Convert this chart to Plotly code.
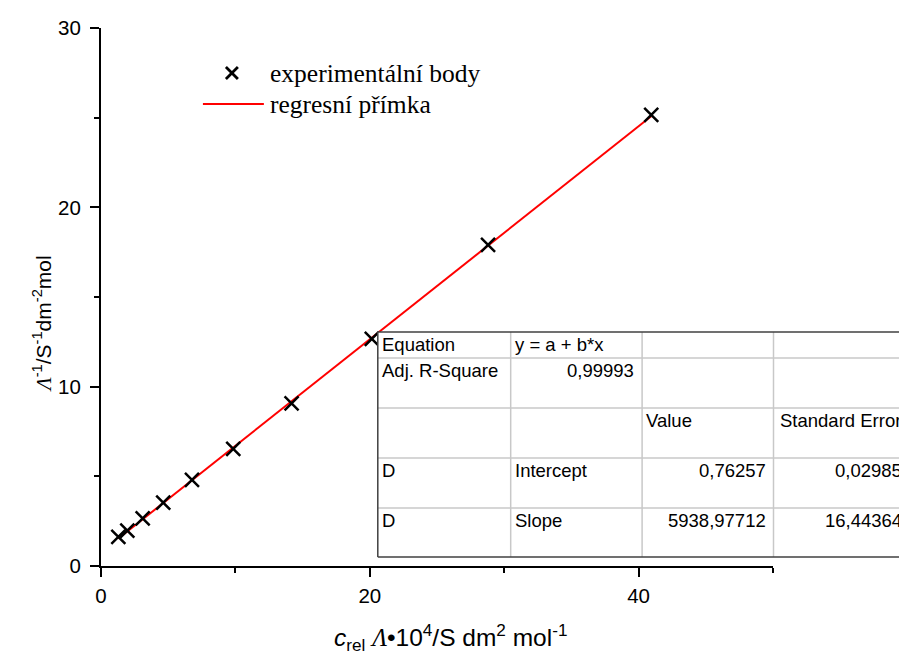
import plotly.graph_objects as go

# ---- data ----
x_vals = [1.29, 1.96, 3.10, 4.63, 6.77, 9.84, 14.18, 20.15, 28.80, 40.94]
y_vals = [1.63, 1.97, 2.66, 3.53, 4.80, 6.53, 9.07, 12.66, 17.90, 25.15]

fit_intercept = 0.76257
fit_slope = 5938.97712      # per (x * 1e-4)

table_rows = [
    ["Equation", "y = a + b*x", "", ""],
    ["Adj. R-Square", "0,99993", "", ""],
    ["", "", "Value", "Standard Error"],
    ["D", "Intercept", "0,76257", "0,02985"],
    ["D", "Slope", "5938,97712", "16,44364"],
]

legend_labels = ["experimentální body", "regresní přímka"]

x_tickvals = [0, 20, 40]
y_tickvals = [0, 10, 20, 30]

# ---- layout geometry (page margin removed below, so page px == figure px) ----
W, H = 899, 657
X0, X50 = 101, 773.5       # pixels of x=0 and x=50
Y0, Y30 = 566, 28          # pixels of y=0 and y=30
L, T = X0, Y30
R, B = W - X50, H - Y0
PW, PH = W - L - R, H - T - B


def px(xp):
    return (xp - L) / PW


def py(yp):
    return (H - B - yp) / PH


SANS = "Liberation Sans, Arial, sans-serif"
SERIF = "Liberation Serif, Times New Roman, serif"

fig = go.Figure()

# regression line drawn through the data span
x_line = [min(x_vals), max(x_vals)]
y_line = [fit_intercept + fit_slope * 1e-4 * v for v in x_line]
fig.add_trace(go.Scatter(x=x_line, y=y_line, mode="lines",
                         line=dict(color="#ff0000", width=2),
                         showlegend=False, hoverinfo="skip"))
fig.add_trace(go.Scatter(x=x_vals, y=y_vals, mode="markers",
                         marker=dict(symbol="x-thin-open", size=14, color="black",
                                     line=dict(color="black", width=2.5)),
                         showlegend=False, cliponaxis=False))

shapes = []
annotations = []

# ---- manual legend ----
lx, ly1, ly2 = 232, 73, 104
arm = 6
for s in (1, -1):
    shapes.append(dict(type="line", xref="paper", yref="paper",
                       x0=px(lx - arm), y0=py(ly1 - s * arm), x1=px(lx + arm), y1=py(ly1 + s * arm),
                       line=dict(color="black", width=2.8)))
shapes.append(dict(type="line", xref="paper", yref="paper",
                   x0=px(203), y0=py(ly2), x1=px(264), y1=py(ly2),
                   line=dict(color="#ff0000", width=2)))
for lab, yy in zip(legend_labels, [ly1, ly2]):
    annotations.append(dict(xref="paper", yref="paper", x=px(268), y=py(yy),
                            text=lab, showarrow=False, xanchor="left", yanchor="middle",
                            font=dict(family=SERIF, size=25.5, color="black")))

# ---- table ----
col_x = [378, 511, 642.5, 774, 911, 1040]
row_y = [332, 358, 408, 458, 508, 557]
grid = "#c8c8c8"
shapes.append(dict(type="rect", xref="paper", yref="paper", layer="above",
                   x0=px(col_x[0]), x1=px(col_x[-1]), y0=py(row_y[0]), y1=py(row_y[-1]),
                   fillcolor="white", line=dict(width=0)))
for yy in row_y[1:-1]:
    shapes.append(dict(type="line", xref="paper", yref="paper", layer="above",
                       x0=px(col_x[0]), x1=px(col_x[-1]), y0=py(yy), y1=py(yy),
                       line=dict(color=grid, width=1.5)))
for xx in col_x[1:-1]:
    shapes.append(dict(type="line", xref="paper", yref="paper", layer="above",
                       x0=px(xx), x1=px(xx), y0=py(row_y[0]), y1=py(row_y[-1]),
                       line=dict(color=grid, width=1.5)))
for (x0, y0, x1, y1) in [(col_x[0], row_y[0], col_x[-1], row_y[0]),
                         (col_x[0], row_y[-1], col_x[-1], row_y[-1]),
                         (col_x[0], row_y[0], col_x[0], row_y[-1])]:
    shapes.append(dict(type="line", xref="paper", yref="paper", layer="above",
                       x0=px(x0), x1=px(x1), y0=py(y0), y1=py(y1),
                       line=dict(color="#404040", width=1.5)))

numeric_cols = {(1, 1), (3, 2), (3, 3), (4, 2), (4, 3)}
for r, row in enumerate(table_rows):
    yc = row_y[r] + 12.5
    for c, txt in enumerate(row):
        if not txt:
            continue
        if (r, c) in numeric_cols:
            xa, anchor = col_x[c + 1] - 6, "right"
        else:
            xa, anchor = col_x[c] + (5 if c == 3 else 2), "left"
        annotations.append(dict(xref="paper", yref="paper", x=px(xa), y=py(yc),
                                text=txt, showarrow=False, xanchor=anchor, yanchor="middle",
                                font=dict(family=SANS, size=18.5, color="black")))

# ---- axis titles ----
lam = "<span style='font-family:Liberation Serif'><i>Λ</i></span>"
annotations.append(dict(xref="paper", yref="paper", x=px(451), y=py(637),
                        text=f"<i>c</i><sub>rel</sub> {lam}•10<sup>4</sup>/S dm<sup>2</sup> mol<sup>-1</sup>",
                        showarrow=False, xanchor="center", yanchor="middle",
                        font=dict(family=SANS, size=24.5, color="black")))
annotations.append(dict(xref="paper", yref="paper", x=px(42), y=py(324),
                        text=f"{lam}<sup>-1</sup>/S<sup>-1</sup>dm<sup>-2</sup>mol",
                        showarrow=False, xanchor="center", yanchor="middle", textangle=-90,
                        font=dict(family=SANS, size=21, color="black")))

axis_common = dict(showline=True, linecolor="black", linewidth=2, mirror=False,
                   showgrid=False, zeroline=False, ticks="outside", ticklen=9,
                   tickwidth=2, tickcolor="black",
                   tickfont=dict(family=SANS, size=20.5, color="black"))

fig.update_layout(
    width=W, height=H,
    margin=dict(l=L, r=R, t=T, b=B, autoexpand=False),
    paper_bgcolor="white", plot_bgcolor="white",
    showlegend=False,
    xaxis=dict(range=[0, 50], tickvals=x_tickvals, ticklabelstandoff=1,
               minor=dict(ticks="outside", dtick=10, ticklen=5, tickwidth=2, tickcolor="black"),
               **axis_common),
    yaxis=dict(range=[0, 30], tickvals=y_tickvals, ticklabelstandoff=5,
               minor=dict(ticks="outside", dtick=5, ticklen=5, tickwidth=2, tickcolor="black"),
               **axis_common),
    shapes=shapes,
    annotations=annotations,
)

fig.write_html("out.html", config={"displayModeBar": False},
               post_script="document.body.style.margin='0';document.body.style.overflow='hidden';")
